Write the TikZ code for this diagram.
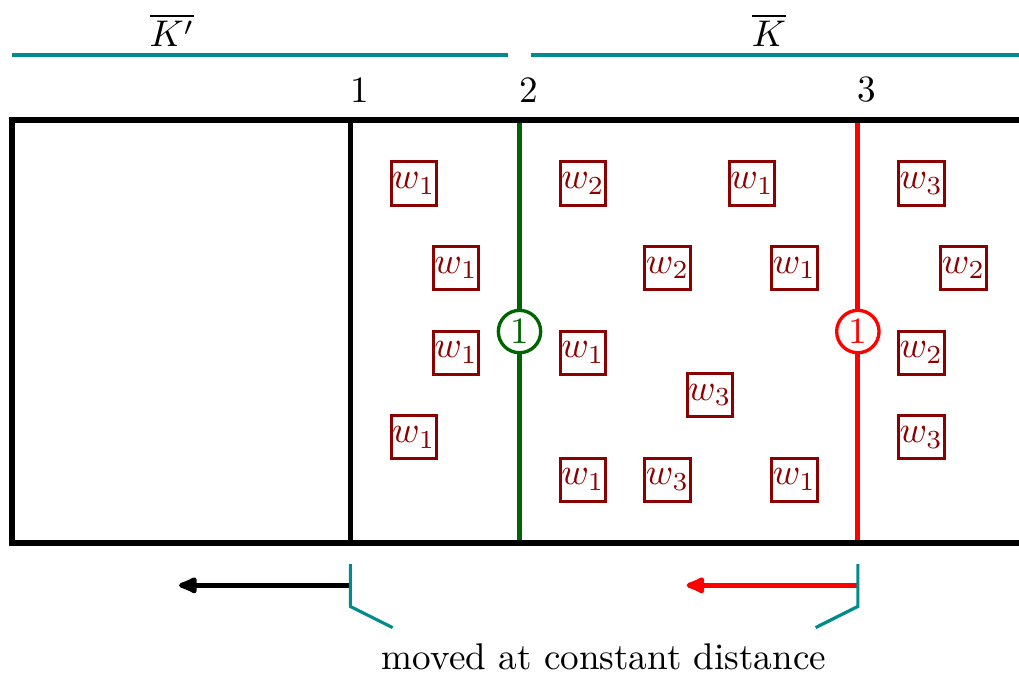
\documentclass[tikz,border=0pt]{standalone}
\usetikzlibrary{arrows.meta}
\definecolor{boxred}{RGB}{139,0,0}
\definecolor{dgreen}{RGB}{0,100,0}
\definecolor{tealc}{RGB}{0,140,140}
\begin{document}
\begin{tikzpicture}[x=0.4cm,y=0.4cm,
  wbox/.style={draw=boxred,text=boxred,line width=0.8pt,minimum size=11.6pt,inner sep=0.3pt},
  ring/.style={circle,fill=white,line width=0.9pt,minimum size=11.4pt,inner sep=0pt},
  frame/.style={line width=1.4pt},
  tealline/.style={draw=tealc,line width=0.85pt},
  mover/.style={line width=1.5pt,-{Latex[length=6.6pt,width=5.4pt,round]}}]
\useasboundingbox (-0.284,-3.07) rectangle (23.81,12.84);
% coloured boundaries
\coordinate (g0) at (12,0); \coordinate (g1) at (12,10);
\coordinate (r0) at (20,0); \coordinate (r1) at (20,10);
\draw[dgreen,line width=1.4pt] (g0) -- (g1);
\draw[red,line width=1.4pt] (r0) -- (r1);
% frame
\coordinate (tr) at (24.5,10); \coordinate (tl) at (0,10);
\coordinate (bl) at (0,0); \coordinate (br) at (24.5,0);
\draw[frame] (tr) -- (tl) -- (bl) -- (br);
\coordinate (b0) at (8,0); \coordinate (b1) at (8,10);
\draw[frame] (b0) -- (b1);
% circles
\node[ring,draw=dgreen,text=dgreen] (cg) at (12,5) {1};
\node[ring,draw=red,text=red] (cr) at (20,5) {1};
% labels
\node (l1) at (8.22,10.72) {1};
\node (l2) at (12.22,10.72) {2};
\node (l3) at (20.2,10.72) {3};
\node (kp) at (3.78,12.13) {$\overline{K'}$};
\node (kk) at (17.9,12.13) {$\overline{K}$};
% teal top lines
\coordinate (t1a) at (0,11.54); \coordinate (t1b) at (11.72,11.54);
\coordinate (t2a) at (12.27,11.54); \coordinate (t2b) at (24.5,11.54);
\draw[tealline] (t1a) -- (t1b);
\draw[tealline] (t2a) -- (t2b);
% boxes
\node[wbox] (a1) at (9.5,8.5) {$w_1$};
\node[wbox] (a2) at (10.5,6.5) {$w_1$};
\node[wbox] (a3) at (10.5,4.5) {$w_1$};
\node[wbox] (a4) at (9.5,2.5) {$w_1$};
\node[wbox] (c1) at (13.5,8.5) {$w_2$};
\node[wbox] (c2) at (17.5,8.5) {$w_1$};
\node[wbox] (c3) at (15.5,6.5) {$w_2$};
\node[wbox] (c4) at (18.5,6.5) {$w_1$};
\node[wbox] (c5) at (13.5,4.5) {$w_1$};
\node[wbox] (c6) at (16.5,3.5) {$w_3$};
\node[wbox] (c7) at (13.5,1.5) {$w_1$};
\node[wbox] (c8) at (15.5,1.5) {$w_3$};
\node[wbox] (c9) at (18.5,1.5) {$w_1$};
\node[wbox] (d1) at (21.5,8.5) {$w_3$};
\node[wbox] (d2) at (22.5,6.5) {$w_2$};
\node[wbox] (d3) at (21.5,4.5) {$w_2$};
\node[wbox] (d4) at (21.5,2.5) {$w_3$};
% arrows
\coordinate (m1s) at (8,-1); \coordinate (m1e) at (3.95,-1);
\coordinate (m2s) at (20,-1); \coordinate (m2e) at (15.95,-1);
\draw[mover,black] (m1s) -- (m1e);
\draw[mover,red] (m2s) -- (m2e);
% brackets
\coordinate (p1) at (8,-0.5); \coordinate (p2) at (8,-1.5); \coordinate (p3) at (9,-2);
\coordinate (q1) at (20,-0.5); \coordinate (q2) at (20,-1.5); \coordinate (q3) at (19,-2);
\draw[tealline] (p1) -- (p2) -- (p3);
\draw[tealline] (q1) -- (q2) -- (q3);
\node[anchor=base,inner sep=0pt] (txt) at (14,-3.0) {moved at constant distance};
\end{tikzpicture}
\end{document}
